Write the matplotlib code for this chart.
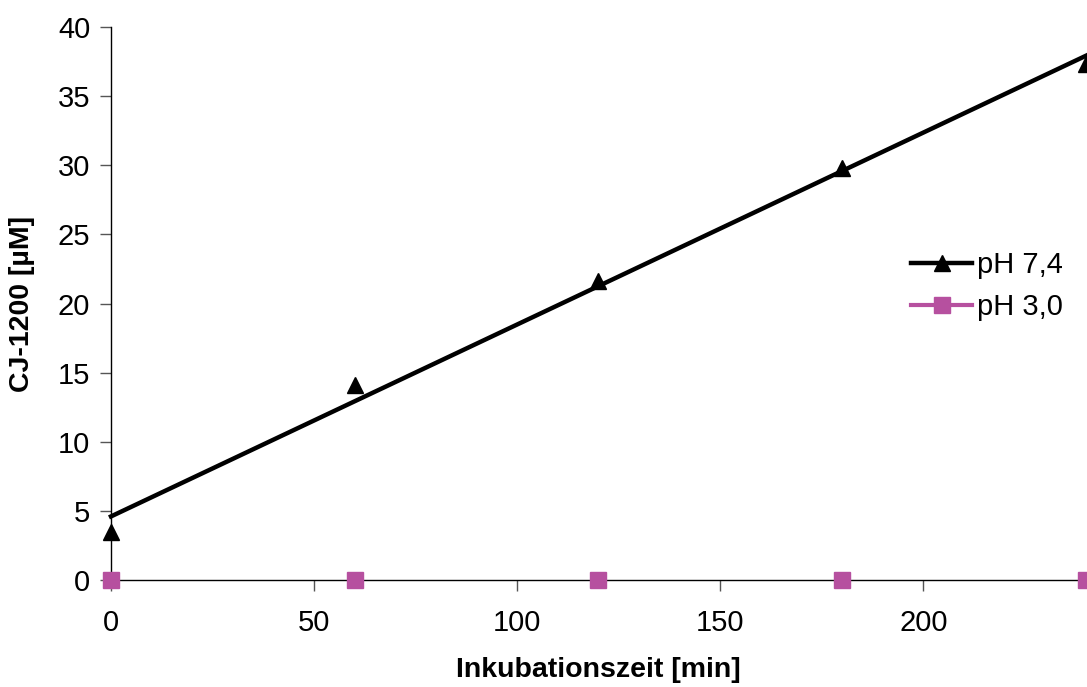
import matplotlib
matplotlib.use("Agg")
import matplotlib.pyplot as plt
from matplotlib.lines import Line2D
import numpy as np

plt.rcParams["font.family"] = ["Liberation Sans", "DejaVu Sans"]

# data
time_min = [0, 60, 120, 180, 240]
ph74 = [3.5, 14.1, 21.6, 29.8, 37.3]
ph30 = [0, 0, 0, 0, 0]

black = "#000000"
pink = "#B6509F"

fig = plt.figure(figsize=(10.87, 6.87), dpi=100)
ax = fig.add_axes([0.1021, 0.1557, 0.8969, 0.805])

# linear trend line for pH 7,4
slope, icpt = np.polyfit(time_min, ph74, 1)
xfit = np.array([min(time_min), max(time_min)])
ax.plot(xfit, slope * xfit + icpt, color=black, linewidth=3.2, zorder=3,
        clip_on=False)
ax.plot(time_min, ph74, linestyle="none", marker="^", markersize=11.5,
        color=black, zorder=4, clip_on=False)
ax.plot(time_min, ph30, linestyle="none", marker="s", markersize=11,
        color=pink, zorder=4, clip_on=False)

ax.set_xlim(0, 240)
ax.set_ylim(0, 40)
ax.set_xticks([0, 50, 100, 150, 200])
ax.set_yticks(range(0, 41, 5))
for side in ("top", "right"):
    ax.spines[side].set_visible(False)
for side in ("left", "bottom"):
    ax.spines[side].set_linewidth(1.0)
    ax.spines[side].set_color(black)
ax.tick_params(axis="both", direction="out", length=8, width=1,
               labelsize=21, color="#555555")
ax.tick_params(axis="x", pad=13)
ax.tick_params(axis="y", pad=7)

ax.set_xlabel("Inkubationszeit [min]", fontsize=20.5, fontweight="bold",
              labelpad=14)
ax.set_ylabel("CJ-1200 [µM]", fontsize=20.5, fontweight="bold", labelpad=16)

handles = [
    Line2D([], [], color=black, linewidth=3.2, marker="^", markersize=11.5),
    Line2D([], [], color=pink, linewidth=3.0, marker="s", markersize=11),
]
fig.legend(handles, ["pH 7,4", "pH 3,0"], loc="center left",
           bbox_to_anchor=(0.838, 1 - 286 / 687), frameon=False, fontsize=21,
           handlelength=2.1, handletextpad=0.15, labelspacing=0.48,
           borderpad=0, borderaxespad=0)

fig.savefig("out.png", dpi=100)
